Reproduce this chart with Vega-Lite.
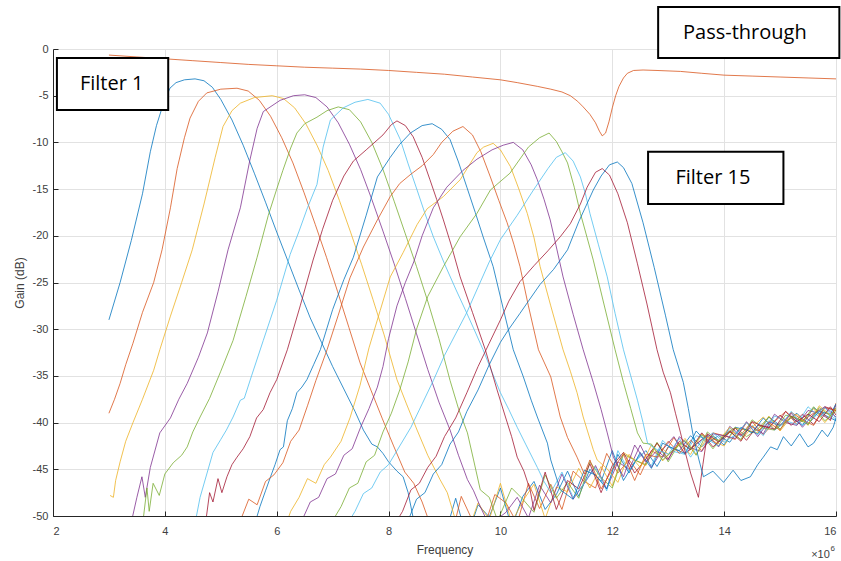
{
  "$schema": "https://vega.github.io/schema/vega-lite/v6.json",
  "width": 783,
  "height": 467,
  "autosize": {"type": "none"},
  "padding": {"left": 53, "top": 49, "right": 5, "bottom": 45},
  "background": "white",
  "config": {
    "font": "Liberation Sans",
    "view": {"stroke": null},
    "axis": {
      "grid": true,
      "gridColor": "#e2e2e2",
      "domainColor": "#262626",
      "tickColor": "#262626",
      "tickSize": -5,
      "labelFontSize": 11,
      "labelColor": "#404040",
      "titleFontSize": 12,
      "titleFontWeight": "normal",
      "titleColor": "#404040"
    }
  },
  "datasets": {
    "curves": [
      {"s":"1","x":3,"y":-29},{"s":"1","x":3.2,"y":-25},{"s":"1","x":3.4,"y":-20.5},{"s":"1","x":3.6,"y":-15.5},{"s":"1","x":3.74,"y":-11},{"s":"1","x":3.85,"y":-8.2},{"s":"1","x":3.95,"y":-6.3},{"s":"1","x":4.09,"y":-4.2},{"s":"1","x":4.2,"y":-3.6},{"s":"1","x":4.35,"y":-3.3},{"s":"1","x":4.54,"y":-3.2},{"s":"1","x":4.7,"y":-3.4},{"s":"1","x":4.85,"y":-4.1},{"s":"1","x":5,"y":-5.4},{"s":"1","x":5.2,"y":-7.6},{"s":"1","x":5.4,"y":-10.3},{"s":"1","x":5.6,"y":-13.3},{"s":"1","x":5.8,"y":-16.4},{"s":"1","x":6,"y":-19.6},{"s":"1","x":6.2,"y":-22.7},{"s":"1","x":6.4,"y":-25.8},{"s":"1","x":6.6,"y":-28.8},{"s":"1","x":6.8,"y":-31.4},{"s":"1","x":7,"y":-34},{"s":"1","x":7.2,"y":-36.4},{"s":"1","x":7.4,"y":-38.8},{"s":"1","x":7.55,"y":-40.8},{"s":"1","x":7.7,"y":-42.3},{"s":"1","x":7.8,"y":-42.6},{"s":"1","x":7.9,"y":-43.3},{"s":"1","x":8,"y":-44.2},{"s":"1","x":8.15,"y":-45.2},{"s":"1","x":8.26,"y":-45.8},{"s":"1","x":8.35,"y":-47.5},{"s":"1","x":8.45,"y":-50.5},{"s":"1","x":8.6,"y":-50.5},{"s":"1","x":8.8,"y":-51.2},{"s":"1","x":9,"y":-52.2},{"s":"1","x":9.2,"y":-48.1},{"s":"1","x":9.4,"y":-52.4},{"s":"1","x":9.6,"y":-48.8},{"s":"1","x":9.8,"y":-50.1},{"s":"1","x":10,"y":-47},{"s":"1","x":10.2,"y":-51.2},{"s":"1","x":10.4,"y":-47.9},{"s":"1","x":10.6,"y":-46.3},{"s":"1","x":10.8,"y":-49.3},{"s":"1","x":11,"y":-47.7},{"s":"1","x":11.2,"y":-45.2},{"s":"1","x":11.4,"y":-47.9},{"s":"1","x":11.6,"y":-45},{"s":"1","x":11.8,"y":-46.3},{"s":"1","x":12,"y":-43},{"s":"1","x":12.2,"y":-46.2},{"s":"1","x":12.4,"y":-44.2},{"s":"1","x":12.6,"y":-43},{"s":"1","x":12.8,"y":-44.7},{"s":"1","x":13,"y":-42.6},{"s":"1","x":13.2,"y":-43},{"s":"1","x":13.4,"y":-41.4},{"s":"1","x":13.6,"y":-42.6},{"s":"1","x":13.8,"y":-41.4},{"s":"1","x":14,"y":-42.4},{"s":"1","x":14.2,"y":-40.5},{"s":"1","x":14.4,"y":-40.8},{"s":"1","x":14.6,"y":-41.2},{"s":"1","x":14.8,"y":-39.4},{"s":"1","x":15,"y":-40.3},{"s":"1","x":15.2,"y":-39.5},{"s":"1","x":15.4,"y":-40.3},{"s":"1","x":15.6,"y":-38.4},{"s":"1","x":15.8,"y":-39.2},{"s":"1","x":16,"y":-39.8},

      {"s":"2","x":3,"y":-39},{"s":"2","x":3.1,"y":-37.5},{"s":"2","x":3.2,"y":-35.8},{"s":"2","x":3.3,"y":-33.8},{"s":"2","x":3.43,"y":-31.5},{"s":"2","x":3.6,"y":-28.2},{"s":"2","x":3.8,"y":-25},{"s":"2","x":3.95,"y":-21.5},{"s":"2","x":4.1,"y":-17},{"s":"2","x":4.22,"y":-12.8},{"s":"2","x":4.35,"y":-9.5},{"s":"2","x":4.45,"y":-7.4},{"s":"2","x":4.6,"y":-5.6},{"s":"2","x":4.75,"y":-4.7},{"s":"2","x":5,"y":-4.3},{"s":"2","x":5.29,"y":-4.2},{"s":"2","x":5.49,"y":-4.5},{"s":"2","x":5.69,"y":-5.5},{"s":"2","x":5.89,"y":-7.2},{"s":"2","x":6.09,"y":-9.5},{"s":"2","x":6.29,"y":-12.2},{"s":"2","x":6.49,"y":-15.4},{"s":"2","x":6.69,"y":-18.8},{"s":"2","x":6.89,"y":-22.3},{"s":"2","x":7.09,"y":-26},{"s":"2","x":7.29,"y":-29.8},{"s":"2","x":7.49,"y":-33.6},{"s":"2","x":7.69,"y":-36.6},{"s":"2","x":7.89,"y":-39.6},{"s":"2","x":8.09,"y":-42.5},{"s":"2","x":8.29,"y":-45.3},{"s":"2","x":8.45,"y":-46.5},{"s":"2","x":8.6,"y":-48.5},{"s":"2","x":8.75,"y":-51},{"s":"2","x":8.9,"y":-50.5},{"s":"2","x":9.1,"y":-52.8},{"s":"2","x":9.3,"y":-47.9},{"s":"2","x":9.5,"y":-50.5},{"s":"2","x":9.7,"y":-51.4},{"s":"2","x":9.9,"y":-47.7},{"s":"2","x":10.1,"y":-48.6},{"s":"2","x":10.3,"y":-50.8},{"s":"2","x":10.5,"y":-46.5},{"s":"2","x":10.7,"y":-49.2},{"s":"2","x":10.9,"y":-46.6},{"s":"2","x":11.1,"y":-49.3},{"s":"2","x":11.3,"y":-45.2},{"s":"2","x":11.5,"y":-46.3},{"s":"2","x":11.7,"y":-47},{"s":"2","x":11.9,"y":-43.3},{"s":"2","x":12.1,"y":-45.4},{"s":"2","x":12.3,"y":-44},{"s":"2","x":12.5,"y":-45.6},{"s":"2","x":12.7,"y":-43},{"s":"2","x":12.9,"y":-43.7},{"s":"2","x":13.1,"y":-41.6},{"s":"2","x":13.3,"y":-43.4},{"s":"2","x":13.5,"y":-42.3},{"s":"2","x":13.7,"y":-41.3},{"s":"2","x":13.9,"y":-42.5},{"s":"2","x":14.1,"y":-41},{"s":"2","x":14.3,"y":-41.3},{"s":"2","x":14.5,"y":-39.9},{"s":"2","x":14.7,"y":-41.3},{"s":"2","x":14.9,"y":-39.9},{"s":"2","x":15.1,"y":-38.8},{"s":"2","x":15.3,"y":-40.2},{"s":"2","x":15.5,"y":-39.4},{"s":"2","x":15.7,"y":-38.6},{"s":"2","x":15.9,"y":-39.8},{"s":"2","x":16,"y":-37.9},

      {"s":"3","x":3.02,"y":-47.8},{"s":"3","x":3.08,"y":-48},{"s":"3","x":3.12,"y":-46.2},{"s":"3","x":3.2,"y":-44.2},{"s":"3","x":3.3,"y":-42},{"s":"3","x":3.43,"y":-40},{"s":"3","x":3.6,"y":-37.5},{"s":"3","x":3.8,"y":-34.4},{"s":"3","x":3.91,"y":-32.2},{"s":"3","x":4.1,"y":-28.6},{"s":"3","x":4.3,"y":-25},{"s":"3","x":4.49,"y":-21.5},{"s":"3","x":4.7,"y":-16.6},{"s":"3","x":4.9,"y":-11.6},{"s":"3","x":5.04,"y":-8.3},{"s":"3","x":5.2,"y":-6.6},{"s":"3","x":5.35,"y":-5.8},{"s":"3","x":5.6,"y":-5.2},{"s":"3","x":5.92,"y":-5},{"s":"3","x":6.12,"y":-5.3},{"s":"3","x":6.32,"y":-6.3},{"s":"3","x":6.52,"y":-8},{"s":"3","x":6.72,"y":-10.3},{"s":"3","x":6.92,"y":-13},{"s":"3","x":7.12,"y":-16.2},{"s":"3","x":7.32,"y":-19.6},{"s":"3","x":7.52,"y":-23.1},{"s":"3","x":7.72,"y":-26.8},{"s":"3","x":7.92,"y":-30.6},{"s":"3","x":8.15,"y":-35.4},{"s":"3","x":8.32,"y":-38},{"s":"3","x":8.51,"y":-40.8},{"s":"3","x":8.7,"y":-43.5},{"s":"3","x":8.92,"y":-46.1},{"s":"3","x":9.05,"y":-47.5},{"s":"3","x":9.2,"y":-50.5},{"s":"3","x":9.4,"y":-52},{"s":"3","x":9.6,"y":-48.6},{"s":"3","x":9.8,"y":-50.4},{"s":"3","x":10,"y":-46.5},{"s":"3","x":10.2,"y":-50.7},{"s":"3","x":10.4,"y":-48.4},{"s":"3","x":10.6,"y":-46.6},{"s":"3","x":10.8,"y":-50.3},{"s":"3","x":11,"y":-46.9},{"s":"3","x":11.2,"y":-47.4},{"s":"3","x":11.4,"y":-44.9},{"s":"3","x":11.6,"y":-47},{"s":"3","x":11.8,"y":-44.7},{"s":"3","x":12,"y":-46.8},{"s":"3","x":12.2,"y":-43.2},{"s":"3","x":12.4,"y":-44},{"s":"3","x":12.6,"y":-44.6},{"s":"3","x":12.8,"y":-42.2},{"s":"3","x":13,"y":-43.4},{"s":"3","x":13.2,"y":-42.3},{"s":"3","x":13.4,"y":-43.4},{"s":"3","x":13.6,"y":-41.2},{"s":"3","x":13.8,"y":-42},{"s":"3","x":14,"y":-42.5},{"s":"3","x":14.2,"y":-40.6},{"s":"3","x":14.4,"y":-40.8},{"s":"3","x":14.6,"y":-41.1},{"s":"3","x":14.8,"y":-39.3},{"s":"3","x":15,"y":-40.9},{"s":"3","x":15.2,"y":-39.4},{"s":"3","x":15.4,"y":-39.8},{"s":"3","x":15.6,"y":-38.5},{"s":"3","x":15.8,"y":-40},{"s":"3","x":16,"y":-38.6},

      {"s":"4","x":3.35,"y":-52},{"s":"4","x":3.5,"y":-48},{"s":"4","x":3.59,"y":-45.8},{"s":"4","x":3.65,"y":-48},{"s":"4","x":3.74,"y":-44.8},{"s":"4","x":3.91,"y":-41.1},{"s":"4","x":4.1,"y":-39.5},{"s":"4","x":4.25,"y":-37.5},{"s":"4","x":4.4,"y":-35.8},{"s":"4","x":4.6,"y":-33},{"s":"4","x":4.76,"y":-30.4},{"s":"4","x":4.95,"y":-26},{"s":"4","x":5.13,"y":-21.5},{"s":"4","x":5.35,"y":-17},{"s":"4","x":5.52,"y":-11.9},{"s":"4","x":5.65,"y":-8.5},{"s":"4","x":5.76,"y":-6.7},{"s":"4","x":6.06,"y":-5.5},{"s":"4","x":6.3,"y":-5},{"s":"4","x":6.5,"y":-4.9},{"s":"4","x":6.7,"y":-5.2},{"s":"4","x":6.9,"y":-6.2},{"s":"4","x":7.1,"y":-7.9},{"s":"4","x":7.3,"y":-10.2},{"s":"4","x":7.5,"y":-12.9},{"s":"4","x":7.7,"y":-16.1},{"s":"4","x":7.9,"y":-19.5},{"s":"4","x":8.1,"y":-23},{"s":"4","x":8.3,"y":-26.7},{"s":"4","x":8.5,"y":-30.5},{"s":"4","x":8.7,"y":-34.3},{"s":"4","x":8.9,"y":-37.8},{"s":"4","x":9.1,"y":-40.8},{"s":"4","x":9.25,"y":-43.5},{"s":"4","x":9.41,"y":-46.1},{"s":"4","x":9.52,"y":-47.3},{"s":"4","x":9.64,"y":-49},{"s":"4","x":9.8,"y":-51},{"s":"4","x":10.1,"y":-49.6},{"s":"4","x":10.3,"y":-48},{"s":"4","x":10.5,"y":-50.2},{"s":"4","x":10.7,"y":-46.7},{"s":"4","x":10.9,"y":-48.6},{"s":"4","x":11.1,"y":-45.5},{"s":"4","x":11.3,"y":-48.2},{"s":"4","x":11.5,"y":-46.5},{"s":"4","x":11.7,"y":-44.6},{"s":"4","x":11.9,"y":-47.1},{"s":"4","x":12.1,"y":-44.2},{"s":"4","x":12.3,"y":-45},{"s":"4","x":12.5,"y":-42.4},{"s":"4","x":12.7,"y":-44.8},{"s":"4","x":12.9,"y":-42.9},{"s":"4","x":13.1,"y":-41.5},{"s":"4","x":13.3,"y":-43.3},{"s":"4","x":13.5,"y":-42.3},{"s":"4","x":13.7,"y":-41.4},{"s":"4","x":13.9,"y":-42.6},{"s":"4","x":14.1,"y":-40.4},{"s":"4","x":14.3,"y":-41.4},{"s":"4","x":14.5,"y":-40.4},{"s":"4","x":14.7,"y":-41.2},{"s":"4","x":14.9,"y":-39.1},{"s":"4","x":15.1,"y":-40},{"s":"4","x":15.3,"y":-40.3},{"s":"4","x":15.5,"y":-38.7},{"s":"4","x":15.7,"y":-39},{"s":"4","x":15.9,"y":-39.7},{"s":"4","x":16,"y":-38.1},

      {"s":"5","x":3.6,"y":-51},{"s":"5","x":3.68,"y":-47},{"s":"5","x":3.72,"y":-49.5},{"s":"5","x":3.79,"y":-46.5},{"s":"5","x":3.9,"y":-47.8},{"s":"5","x":4,"y":-45.5},{"s":"5","x":4.15,"y":-44.3},{"s":"5","x":4.3,"y":-43.5},{"s":"5","x":4.4,"y":-42.6},{"s":"5","x":4.5,"y":-41},{"s":"5","x":4.63,"y":-39.4},{"s":"5","x":4.8,"y":-37.4},{"s":"5","x":5,"y":-34.5},{"s":"5","x":5.22,"y":-31.2},{"s":"5","x":5.45,"y":-26.5},{"s":"5","x":5.65,"y":-22.3},{"s":"5","x":5.85,"y":-17.8},{"s":"5","x":6,"y":-15},{"s":"5","x":6.11,"y":-13},{"s":"5","x":6.25,"y":-10.6},{"s":"5","x":6.36,"y":-9},{"s":"5","x":6.5,"y":-8},{"s":"5","x":6.72,"y":-7.3},{"s":"5","x":6.9,"y":-6.6},{"s":"5","x":7.1,"y":-6.2},{"s":"5","x":7.3,"y":-6.5},{"s":"5","x":7.5,"y":-7.8},{"s":"5","x":7.7,"y":-10},{"s":"5","x":7.9,"y":-12.9},{"s":"5","x":8.1,"y":-16.3},{"s":"5","x":8.3,"y":-19.8},{"s":"5","x":8.5,"y":-23.3},{"s":"5","x":8.7,"y":-27},{"s":"5","x":8.9,"y":-31},{"s":"5","x":9.1,"y":-35.5},{"s":"5","x":9.25,"y":-38.5},{"s":"5","x":9.41,"y":-41.1},{"s":"5","x":9.52,"y":-44},{"s":"5","x":9.64,"y":-47.2},{"s":"5","x":9.8,"y":-48},{"s":"5","x":9.95,"y":-50.5},{"s":"5","x":10.2,"y":-47},{"s":"5","x":10.4,"y":-48.2},{"s":"5","x":10.6,"y":-49.6},{"s":"5","x":10.8,"y":-45.6},{"s":"5","x":11,"y":-48.1},{"s":"5","x":11.2,"y":-46.4},{"s":"5","x":11.4,"y":-48.1},{"s":"5","x":11.6,"y":-44.2},{"s":"5","x":11.8,"y":-45.9},{"s":"5","x":12,"y":-47},{"s":"5","x":12.2,"y":-43.4},{"s":"5","x":12.4,"y":-44},{"s":"5","x":12.6,"y":-44.5},{"s":"5","x":12.8,"y":-42.1},{"s":"5","x":13,"y":-44.2},{"s":"5","x":13.2,"y":-42.2},{"s":"5","x":13.4,"y":-42.8},{"s":"5","x":13.6,"y":-41.3},{"s":"5","x":13.8,"y":-42.8},{"s":"5","x":14,"y":-41.3},{"s":"5","x":14.2,"y":-40.5},{"s":"5","x":14.4,"y":-41.5},{"s":"5","x":14.6,"y":-40.7},{"s":"5","x":14.8,"y":-39.4},{"s":"5","x":15,"y":-40.7},{"s":"5","x":15.2,"y":-39.3},{"s":"5","x":15.4,"y":-39.9},{"s":"5","x":15.6,"y":-38.3},{"s":"5","x":15.8,"y":-39.8},{"s":"5","x":16,"y":-38.8},

      {"s":"6","x":4.5,"y":-52},{"s":"6","x":4.63,"y":-48},{"s":"6","x":4.75,"y":-45.5},{"s":"6","x":4.86,"y":-43.2},{"s":"6","x":5,"y":-41.8},{"s":"6","x":5.1,"y":-40.8},{"s":"6","x":5.22,"y":-39.4},{"s":"6","x":5.35,"y":-37.6},{"s":"6","x":5.42,"y":-37.4},{"s":"6","x":5.55,"y":-35},{"s":"6","x":5.76,"y":-31.2},{"s":"6","x":6,"y":-26.9},{"s":"6","x":6.24,"y":-22},{"s":"6","x":6.4,"y":-19.5},{"s":"6","x":6.55,"y":-17},{"s":"6","x":6.72,"y":-14.5},{"s":"6","x":6.83,"y":-10.5},{"s":"6","x":6.96,"y":-7.6},{"s":"6","x":7.19,"y":-6.3},{"s":"6","x":7.4,"y":-5.7},{"s":"6","x":7.63,"y":-5.4},{"s":"6","x":7.85,"y":-5.8},{"s":"6","x":8,"y":-7},{"s":"6","x":8.21,"y":-9.7},{"s":"6","x":8.35,"y":-12.3},{"s":"6","x":8.51,"y":-15.1},{"s":"6","x":8.65,"y":-17.6},{"s":"6","x":8.8,"y":-20.1},{"s":"6","x":9,"y":-23},{"s":"6","x":9.2,"y":-25.7},{"s":"6","x":9.4,"y":-28.3},{"s":"6","x":9.55,"y":-30.3},{"s":"6","x":9.69,"y":-32.2},{"s":"6","x":9.85,"y":-34.6},{"s":"6","x":10,"y":-36.8},{"s":"6","x":10.15,"y":-38.6},{"s":"6","x":10.3,"y":-40.5},{"s":"6","x":10.45,"y":-42.3},{"s":"6","x":10.66,"y":-44.8},{"s":"6","x":10.78,"y":-46.3},{"s":"6","x":10.9,"y":-47.5},{"s":"6","x":11.1,"y":-45.3},{"s":"6","x":11.3,"y":-48},{"s":"6","x":11.5,"y":-46.5},{"s":"6","x":11.7,"y":-44.8},{"s":"6","x":11.9,"y":-47.3},{"s":"6","x":12.1,"y":-43},{"s":"6","x":12.3,"y":-45.2},{"s":"6","x":12.5,"y":-43.4},{"s":"6","x":12.7,"y":-44.6},{"s":"6","x":12.9,"y":-41.9},{"s":"6","x":13.1,"y":-43.1},{"s":"6","x":13.3,"y":-43.4},{"s":"6","x":13.5,"y":-41.4},{"s":"6","x":13.7,"y":-41.8},{"s":"6","x":13.9,"y":-42.5},{"s":"6","x":14.1,"y":-40.6},{"s":"6","x":14.3,"y":-41.5},{"s":"6","x":14.5,"y":-40.3},{"s":"6","x":14.7,"y":-41.4},{"s":"6","x":14.9,"y":-39.3},{"s":"6","x":15.1,"y":-39.8},{"s":"6","x":15.3,"y":-40.2},{"s":"6","x":15.5,"y":-38.3},{"s":"6","x":15.7,"y":-39.4},{"s":"6","x":15.9,"y":-38.6},{"s":"6","x":16,"y":-39.6},

      {"s":"7","x":4.7,"y":-52},{"s":"7","x":4.8,"y":-47.5},{"s":"7","x":4.86,"y":-48.5},{"s":"7","x":4.95,"y":-46},{"s":"7","x":5.02,"y":-47.5},{"s":"7","x":5.11,"y":-45.8},{"s":"7","x":5.2,"y":-44.5},{"s":"7","x":5.29,"y":-43.7},{"s":"7","x":5.4,"y":-42.8},{"s":"7","x":5.52,"y":-41.5},{"s":"7","x":5.64,"y":-39.5},{"s":"7","x":5.76,"y":-38.6},{"s":"7","x":5.88,"y":-36.8},{"s":"7","x":6,"y":-35.4},{"s":"7","x":6.19,"y":-32.2},{"s":"7","x":6.42,"y":-27.5},{"s":"7","x":6.65,"y":-22.6},{"s":"7","x":6.82,"y":-19.3},{"s":"7","x":7,"y":-16.2},{"s":"7","x":7.2,"y":-13.6},{"s":"7","x":7.37,"y":-12},{"s":"7","x":7.6,"y":-10.8},{"s":"7","x":7.9,"y":-9.2},{"s":"7","x":8.05,"y":-8.1},{"s":"7","x":8.15,"y":-7.7},{"s":"7","x":8.3,"y":-8.2},{"s":"7","x":8.44,"y":-9.4},{"s":"7","x":8.6,"y":-11.6},{"s":"7","x":8.74,"y":-14},{"s":"7","x":8.86,"y":-16.1},{"s":"7","x":8.98,"y":-18.3},{"s":"7","x":9.13,"y":-21.2},{"s":"7","x":9.28,"y":-24.4},{"s":"7","x":9.5,"y":-28.2},{"s":"7","x":9.73,"y":-32.2},{"s":"7","x":9.94,"y":-36.5},{"s":"7","x":10.09,"y":-39.4},{"s":"7","x":10.2,"y":-41.5},{"s":"7","x":10.3,"y":-43.7},{"s":"7","x":10.42,"y":-45.2},{"s":"7","x":10.53,"y":-47.2},{"s":"7","x":10.6,"y":-49.4},{"s":"7","x":10.8,"y":-45.3},{"s":"7","x":11,"y":-49.3},{"s":"7","x":11.2,"y":-46.2},{"s":"7","x":11.4,"y":-47.1},{"s":"7","x":11.6,"y":-44.4},{"s":"7","x":11.8,"y":-47.5},{"s":"7","x":12,"y":-44.6},{"s":"7","x":12.2,"y":-43.2},{"s":"7","x":12.4,"y":-45.4},{"s":"7","x":12.6,"y":-43.9},{"s":"7","x":12.8,"y":-42.2},{"s":"7","x":13,"y":-43.9},{"s":"7","x":13.2,"y":-42},{"s":"7","x":13.4,"y":-42.9},{"s":"7","x":13.6,"y":-41.1},{"s":"7","x":13.8,"y":-42.6},{"s":"7","x":14,"y":-41.5},{"s":"7","x":14.2,"y":-40.6},{"s":"7","x":14.4,"y":-41.9},{"s":"7","x":14.6,"y":-40.3},{"s":"7","x":14.8,"y":-40.5},{"s":"7","x":15,"y":-39.2},{"s":"7","x":15.2,"y":-40.3},{"s":"7","x":15.4,"y":-39.1},{"s":"7","x":15.6,"y":-40.2},{"s":"7","x":15.8,"y":-38.3},{"s":"7","x":16,"y":-38.7},

      {"s":"8","x":5.55,"y":-52},{"s":"8","x":5.7,"y":-49},{"s":"8","x":5.8,"y":-47.3},{"s":"8","x":5.89,"y":-45.8},{"s":"8","x":5.97,"y":-44.5},{"s":"8","x":6.06,"y":-42.9},{"s":"8","x":6.12,"y":-42.6},{"s":"8","x":6.19,"y":-39.8},{"s":"8","x":6.28,"y":-38.5},{"s":"8","x":6.36,"y":-36.8},{"s":"8","x":6.45,"y":-36.2},{"s":"8","x":6.54,"y":-35.4},{"s":"8","x":6.66,"y":-33.8},{"s":"8","x":6.78,"y":-32.2},{"s":"8","x":7,"y":-27.9},{"s":"8","x":7.2,"y":-24.7},{"s":"8","x":7.37,"y":-22.3},{"s":"8","x":7.6,"y":-17.8},{"s":"8","x":7.8,"y":-13.7},{"s":"8","x":8.03,"y":-11.6},{"s":"8","x":8.2,"y":-10.2},{"s":"8","x":8.39,"y":-9},{"s":"8","x":8.6,"y":-8.2},{"s":"8","x":8.78,"y":-8},{"s":"8","x":8.95,"y":-8.6},{"s":"8","x":9.1,"y":-9.7},{"s":"8","x":9.25,"y":-12.1},{"s":"8","x":9.4,"y":-14.8},{"s":"8","x":9.55,"y":-17.5},{"s":"8","x":9.69,"y":-20.1},{"s":"8","x":9.87,"y":-23.3},{"s":"8","x":10.05,"y":-27.8},{"s":"8","x":10.23,"y":-32.2},{"s":"8","x":10.41,"y":-35.1},{"s":"8","x":10.55,"y":-37.6},{"s":"8","x":10.66,"y":-39.4},{"s":"8","x":10.84,"y":-42.2},{"s":"8","x":10.9,"y":-44},{"s":"8","x":11.07,"y":-47.2},{"s":"8","x":11.3,"y":-48.2},{"s":"8","x":11.5,"y":-45.1},{"s":"8","x":11.7,"y":-45.6},{"s":"8","x":11.9,"y":-47.1},{"s":"8","x":12.1,"y":-43.4},{"s":"8","x":12.3,"y":-45.4},{"s":"8","x":12.5,"y":-43.2},{"s":"8","x":12.7,"y":-44.9},{"s":"8","x":12.9,"y":-42.2},{"s":"8","x":13.1,"y":-42.8},{"s":"8","x":13.3,"y":-43.3},{"s":"8","x":13.5,"y":-40.9},{"s":"8","x":13.7,"y":-42.2},{"s":"8","x":13.9,"y":-41.4},{"s":"8","x":14.1,"y":-42.1},{"s":"8","x":14.3,"y":-40.5},{"s":"8","x":14.5,"y":-41.1},{"s":"8","x":14.7,"y":-39.5},{"s":"8","x":14.9,"y":-40.8},{"s":"8","x":15.1,"y":-39.9},{"s":"8","x":15.3,"y":-39},{"s":"8","x":15.5,"y":-40.2},{"s":"8","x":15.7,"y":-38.8},{"s":"8","x":15.9,"y":-39.1},{"s":"8","x":16,"y":-38},

      {"s":"9","x":5.2,"y":-52},{"s":"9","x":5.35,"y":-50.5},{"s":"9","x":5.5,"y":-48.2},{"s":"9","x":5.65,"y":-48.8},{"s":"9","x":5.8,"y":-46.3},{"s":"9","x":5.95,"y":-45.6},{"s":"9","x":6.11,"y":-44.3},{"s":"9","x":6.25,"y":-42},{"s":"9","x":6.4,"y":-40.8},{"s":"9","x":6.55,"y":-38.2},{"s":"9","x":6.7,"y":-35.5},{"s":"9","x":6.9,"y":-32.2},{"s":"9","x":7.1,"y":-28.5},{"s":"9","x":7.31,"y":-24.5},{"s":"9","x":7.55,"y":-21.2},{"s":"9","x":7.8,"y":-18.3},{"s":"9","x":8.03,"y":-15.8},{"s":"9","x":8.2,"y":-14.4},{"s":"9","x":8.4,"y":-13.4},{"s":"9","x":8.6,"y":-12.5},{"s":"9","x":8.8,"y":-11.3},{"s":"9","x":8.95,"y":-10},{"s":"9","x":9.15,"y":-8.8},{"s":"9","x":9.33,"y":-8.3},{"s":"9","x":9.5,"y":-9.2},{"s":"9","x":9.65,"y":-11},{"s":"9","x":9.82,"y":-13.7},{"s":"9","x":9.97,"y":-16.2},{"s":"9","x":10.12,"y":-18.6},{"s":"9","x":10.24,"y":-20.9},{"s":"9","x":10.35,"y":-23.3},{"s":"9","x":10.5,"y":-27.5},{"s":"9","x":10.68,"y":-32.2},{"s":"9","x":10.9,"y":-35.1},{"s":"9","x":11.07,"y":-39.4},{"s":"9","x":11.2,"y":-41.6},{"s":"9","x":11.37,"y":-43.7},{"s":"9","x":11.5,"y":-45.5},{"s":"9","x":11.6,"y":-44},{"s":"9","x":11.8,"y":-47.1},{"s":"9","x":12,"y":-45},{"s":"9","x":12.2,"y":-43.4},{"s":"9","x":12.4,"y":-46.2},{"s":"9","x":12.6,"y":-43.4},{"s":"9","x":12.8,"y":-43.7},{"s":"9","x":13,"y":-42},{"s":"9","x":13.2,"y":-43.3},{"s":"9","x":13.4,"y":-41.9},{"s":"9","x":13.6,"y":-43},{"s":"9","x":13.8,"y":-41.1},{"s":"9","x":14,"y":-41.4},{"s":"9","x":14.2,"y":-41.8},{"s":"9","x":14.4,"y":-40},{"s":"9","x":14.6,"y":-40.9},{"s":"9","x":14.8,"y":-40},{"s":"9","x":15,"y":-40.8},{"s":"9","x":15.2,"y":-38.9},{"s":"9","x":15.4,"y":-39.7},{"s":"9","x":15.6,"y":-40.3},{"s":"9","x":15.8,"y":-38.4},{"s":"9","x":16,"y":-38.7},

      {"s":"10","x":6.1,"y":-52},{"s":"10","x":6.25,"y":-49.5},{"s":"10","x":6.4,"y":-48},{"s":"10","x":6.55,"y":-46},{"s":"10","x":6.7,"y":-46.5},{"s":"10","x":6.85,"y":-44.5},{"s":"10","x":6.96,"y":-43.7},{"s":"10","x":7.15,"y":-42},{"s":"10","x":7.31,"y":-39.5},{"s":"10","x":7.49,"y":-36},{"s":"10","x":7.65,"y":-32},{"s":"10","x":7.85,"y":-28},{"s":"10","x":8.03,"y":-24.4},{"s":"10","x":8.26,"y":-21.8},{"s":"10","x":8.51,"y":-18.8},{"s":"10","x":8.69,"y":-17.1},{"s":"10","x":8.98,"y":-15.8},{"s":"10","x":9.28,"y":-14},{"s":"10","x":9.58,"y":-11.1},{"s":"10","x":9.7,"y":-10.5},{"s":"10","x":9.87,"y":-10.1},{"s":"10","x":10,"y":-10.8},{"s":"10","x":10.18,"y":-12.6},{"s":"10","x":10.33,"y":-15},{"s":"10","x":10.48,"y":-17.6},{"s":"10","x":10.6,"y":-20.2},{"s":"10","x":10.71,"y":-23.3},{"s":"10","x":10.9,"y":-27.5},{"s":"10","x":11.12,"y":-32.2},{"s":"10","x":11.25,"y":-34.5},{"s":"10","x":11.37,"y":-36.8},{"s":"10","x":11.48,"y":-39.4},{"s":"10","x":11.66,"y":-42.9},{"s":"10","x":11.73,"y":-44},{"s":"10","x":11.9,"y":-44.9},{"s":"10","x":12.1,"y":-46.4},{"s":"10","x":12.3,"y":-43.4},{"s":"10","x":12.5,"y":-44.8},{"s":"10","x":12.7,"y":-42.4},{"s":"10","x":12.9,"y":-44.1},{"s":"10","x":13.1,"y":-42.9},{"s":"10","x":13.3,"y":-41.7},{"s":"10","x":13.5,"y":-43.4},{"s":"10","x":13.7,"y":-41.6},{"s":"10","x":13.9,"y":-41.9},{"s":"10","x":14.1,"y":-40.5},{"s":"10","x":14.3,"y":-41.9},{"s":"10","x":14.5,"y":-40.5},{"s":"10","x":14.7,"y":-39.4},{"s":"10","x":14.9,"y":-40.7},{"s":"10","x":15.1,"y":-39.9},{"s":"10","x":15.3,"y":-39.1},{"s":"10","x":15.5,"y":-40.3},{"s":"10","x":15.7,"y":-38.2},{"s":"10","x":15.9,"y":-39.2},{"s":"10","x":16,"y":-38.5},

      {"s":"11","x":6.3,"y":-52},{"s":"11","x":6.45,"y":-50.5},{"s":"11","x":6.6,"y":-48.5},{"s":"11","x":6.75,"y":-48},{"s":"11","x":6.9,"y":-46},{"s":"11","x":7.05,"y":-45.5},{"s":"11","x":7.2,"y":-43.5},{"s":"11","x":7.35,"y":-42.8},{"s":"11","x":7.5,"y":-40.5},{"s":"11","x":7.65,"y":-38.5},{"s":"11","x":7.8,"y":-36.2},{"s":"11","x":7.9,"y":-34},{"s":"11","x":8,"y":-31},{"s":"11","x":8.15,"y":-27.5},{"s":"11","x":8.3,"y":-25},{"s":"11","x":8.45,"y":-22.8},{"s":"11","x":8.6,"y":-20},{"s":"11","x":8.8,"y":-17},{"s":"11","x":9.04,"y":-14.8},{"s":"11","x":9.33,"y":-13},{"s":"11","x":9.58,"y":-11.8},{"s":"11","x":9.85,"y":-10.8},{"s":"11","x":10.05,"y":-10.3},{"s":"11","x":10.23,"y":-10},{"s":"11","x":10.4,"y":-10.8},{"s":"11","x":10.55,"y":-12.4},{"s":"11","x":10.66,"y":-14},{"s":"11","x":10.78,"y":-16.1},{"s":"11","x":10.89,"y":-18.3},{"s":"11","x":11,"y":-21.2},{"s":"11","x":11.12,"y":-24.4},{"s":"11","x":11.3,"y":-28.4},{"s":"11","x":11.48,"y":-32.2},{"s":"11","x":11.66,"y":-35.7},{"s":"11","x":11.8,"y":-38.6},{"s":"11","x":11.91,"y":-41.1},{"s":"11","x":12.02,"y":-43.7},{"s":"11","x":12.2,"y":-45.8},{"s":"11","x":12.4,"y":-42.4},{"s":"11","x":12.6,"y":-44.2},{"s":"11","x":12.8,"y":-43},{"s":"11","x":13,"y":-44},{"s":"11","x":13.2,"y":-41.5},{"s":"11","x":13.4,"y":-42.7},{"s":"11","x":13.6,"y":-43.1},{"s":"11","x":13.8,"y":-41.2},{"s":"11","x":14,"y":-41.4},{"s":"11","x":14.2,"y":-41.7},{"s":"11","x":14.4,"y":-39.9},{"s":"11","x":14.6,"y":-41.5},{"s":"11","x":14.8,"y":-39.9},{"s":"11","x":15,"y":-40.3},{"s":"11","x":15.2,"y":-39},{"s":"11","x":15.4,"y":-40.5},{"s":"11","x":15.6,"y":-39.1},{"s":"11","x":15.8,"y":-38.3},{"s":"11","x":16,"y":-39.4},

      {"s":"12","x":6.85,"y":-52},{"s":"12","x":7,"y":-50.5},{"s":"12","x":7.15,"y":-49},{"s":"12","x":7.3,"y":-47},{"s":"12","x":7.45,"y":-46.5},{"s":"12","x":7.6,"y":-44.2},{"s":"12","x":7.75,"y":-43.5},{"s":"12","x":7.9,"y":-41},{"s":"12","x":8.05,"y":-39},{"s":"12","x":8.2,"y":-36.5},{"s":"12","x":8.35,"y":-33.5},{"s":"12","x":8.5,"y":-30},{"s":"12","x":8.7,"y":-26.5},{"s":"12","x":8.98,"y":-23.3},{"s":"12","x":9.28,"y":-20.1},{"s":"12","x":9.58,"y":-17.6},{"s":"12","x":9.82,"y":-15.1},{"s":"12","x":10.17,"y":-13.3},{"s":"12","x":10.5,"y":-10.5},{"s":"12","x":10.7,"y":-9.5},{"s":"12","x":10.87,"y":-9},{"s":"12","x":11,"y":-9.9},{"s":"12","x":11.1,"y":-11},{"s":"12","x":11.2,"y":-12.2},{"s":"12","x":11.32,"y":-14.8},{"s":"12","x":11.43,"y":-17.6},{"s":"12","x":11.55,"y":-20.2},{"s":"12","x":11.66,"y":-22.6},{"s":"12","x":11.85,"y":-27.3},{"s":"12","x":12.05,"y":-32.2},{"s":"12","x":12.2,"y":-35.7},{"s":"12","x":12.33,"y":-38.5},{"s":"12","x":12.45,"y":-41.1},{"s":"12","x":12.55,"y":-42.2},{"s":"12","x":12.7,"y":-42.3},{"s":"12","x":12.9,"y":-44},{"s":"12","x":13.1,"y":-42.9},{"s":"12","x":13.3,"y":-41.9},{"s":"12","x":13.5,"y":-43.5},{"s":"12","x":13.7,"y":-41},{"s":"12","x":13.9,"y":-42},{"s":"12","x":14.1,"y":-41},{"s":"12","x":14.3,"y":-41.8},{"s":"12","x":14.5,"y":-39.7},{"s":"12","x":14.7,"y":-40.6},{"s":"12","x":14.9,"y":-40.8},{"s":"12","x":15.1,"y":-39.2},{"s":"12","x":15.3,"y":-39.5},{"s":"12","x":15.5,"y":-40.2},{"s":"12","x":15.7,"y":-38.4},{"s":"12","x":15.9,"y":-39.3},{"s":"12","x":16,"y":-38.4},

      {"s":"13","x":7.25,"y":-51},{"s":"13","x":7.4,"y":-49.5},{"s":"13","x":7.55,"y":-47.6},{"s":"13","x":7.7,"y":-47},{"s":"13","x":7.85,"y":-45.3},{"s":"13","x":8,"y":-44.5},{"s":"13","x":8.2,"y":-42.5},{"s":"13","x":8.4,"y":-40.5},{"s":"13","x":8.6,"y":-38},{"s":"13","x":8.8,"y":-35.5},{"s":"13","x":9,"y":-32.8},{"s":"13","x":9.2,"y":-30.5},{"s":"13","x":9.4,"y":-28.2},{"s":"13","x":9.6,"y":-25.5},{"s":"13","x":9.8,"y":-22.8},{"s":"13","x":10,"y":-20.4},{"s":"13","x":10.3,"y":-17.8},{"s":"13","x":10.59,"y":-15.1},{"s":"13","x":10.85,"y":-12.8},{"s":"13","x":11,"y":-11.6},{"s":"13","x":11.16,"y":-11.1},{"s":"13","x":11.3,"y":-12},{"s":"13","x":11.43,"y":-13.7},{"s":"13","x":11.52,"y":-15.5},{"s":"13","x":11.6,"y":-17.6},{"s":"13","x":11.75,"y":-20.9},{"s":"13","x":11.91,"y":-24.4},{"s":"13","x":12.05,"y":-28.3},{"s":"13","x":12.2,"y":-32.2},{"s":"13","x":12.33,"y":-35},{"s":"13","x":12.45,"y":-37.6},{"s":"13","x":12.55,"y":-40},{"s":"13","x":12.63,"y":-42.2},{"s":"13","x":12.8,"y":-42.9},{"s":"13","x":13,"y":-43.4},{"s":"13","x":13.2,"y":-41.7},{"s":"13","x":13.4,"y":-43.7},{"s":"13","x":13.6,"y":-41.9},{"s":"13","x":13.8,"y":-41.1},{"s":"13","x":14,"y":-42.1},{"s":"13","x":14.2,"y":-41.3},{"s":"13","x":14.4,"y":-40},{"s":"13","x":14.6,"y":-41.3},{"s":"13","x":14.8,"y":-39.8},{"s":"13","x":15,"y":-40.4},{"s":"13","x":15.2,"y":-38.8},{"s":"13","x":15.4,"y":-40.3},{"s":"13","x":15.6,"y":-39.3},{"s":"13","x":15.8,"y":-38.4},{"s":"13","x":16,"y":-39.8},

      {"s":"14","x":8.1,"y":-51},{"s":"14","x":8.25,"y":-49.5},{"s":"14","x":8.4,"y":-47.2},{"s":"14","x":8.55,"y":-46.5},{"s":"14","x":8.7,"y":-44.8},{"s":"14","x":8.85,"y":-43.6},{"s":"14","x":9,"y":-41.5},{"s":"14","x":9.2,"y":-39.5},{"s":"14","x":9.4,"y":-36.8},{"s":"14","x":9.6,"y":-34},{"s":"14","x":9.8,"y":-31.5},{"s":"14","x":10,"y":-29},{"s":"14","x":10.15,"y":-27},{"s":"14","x":10.35,"y":-24.9},{"s":"14","x":10.6,"y":-23.2},{"s":"14","x":10.85,"y":-21.6},{"s":"14","x":11.07,"y":-20.1},{"s":"14","x":11.25,"y":-18.7},{"s":"14","x":11.43,"y":-16.6},{"s":"14","x":11.55,"y":-14.8},{"s":"14","x":11.7,"y":-13.2},{"s":"14","x":11.82,"y":-12.8},{"s":"14","x":11.95,"y":-13.5},{"s":"14","x":12.1,"y":-15.5},{"s":"14","x":12.27,"y":-18.6},{"s":"14","x":12.45,"y":-23},{"s":"14","x":12.62,"y":-27.3},{"s":"14","x":12.8,"y":-32.2},{"s":"14","x":12.91,"y":-34.6},{"s":"14","x":13.04,"y":-36.8},{"s":"14","x":13.13,"y":-39},{"s":"14","x":13.22,"y":-41.1},{"s":"14","x":13.31,"y":-43.3},{"s":"14","x":13.4,"y":-45.4},{"s":"14","x":13.54,"y":-48},{"s":"14","x":13.62,"y":-44.5},{"s":"14","x":13.7,"y":-41.2},{"s":"14","x":13.9,"y":-42.1},{"s":"14","x":14.1,"y":-40.9},{"s":"14","x":14.3,"y":-42},{"s":"14","x":14.5,"y":-39.9},{"s":"14","x":14.7,"y":-40.4},{"s":"14","x":14.9,"y":-40.7},{"s":"14","x":15.1,"y":-38.8},{"s":"14","x":15.3,"y":-39.9},{"s":"14","x":15.5,"y":-39.1},{"s":"14","x":15.7,"y":-39.9},{"s":"14","x":15.9,"y":-38.3},{"s":"14","x":16,"y":-39.2},

      {"s":"15","x":8.2,"y":-52},{"s":"15","x":8.35,"y":-50.5},{"s":"15","x":8.5,"y":-48.2},{"s":"15","x":8.65,"y":-47.5},{"s":"15","x":8.8,"y":-45.5},{"s":"15","x":8.95,"y":-44.5},{"s":"15","x":9.1,"y":-42.3},{"s":"15","x":9.25,"y":-41},{"s":"15","x":9.4,"y":-38.8},{"s":"15","x":9.6,"y":-36.5},{"s":"15","x":9.8,"y":-33.8},{"s":"15","x":10,"y":-31.4},{"s":"15","x":10.15,"y":-30},{"s":"15","x":10.35,"y":-28.3},{"s":"15","x":10.5,"y":-27},{"s":"15","x":10.71,"y":-25.2},{"s":"15","x":10.95,"y":-23.6},{"s":"15","x":11.2,"y":-21.5},{"s":"15","x":11.4,"y":-18.5},{"s":"15","x":11.66,"y":-15.1},{"s":"15","x":11.8,"y":-13.6},{"s":"15","x":11.95,"y":-12.4},{"s":"15","x":12.09,"y":-12.1},{"s":"15","x":12.2,"y":-12.7},{"s":"15","x":12.35,"y":-14.4},{"s":"15","x":12.55,"y":-18.6},{"s":"15","x":12.75,"y":-23.4},{"s":"15","x":12.95,"y":-28.5},{"s":"15","x":13.09,"y":-32.2},{"s":"15","x":13.27,"y":-35.7},{"s":"15","x":13.36,"y":-38.5},{"s":"15","x":13.45,"y":-41.5},{"s":"15","x":13.55,"y":-44},{"s":"15","x":13.63,"y":-45.8},{"s":"15","x":13.8,"y":-45.2},{"s":"15","x":13.99,"y":-46.4},{"s":"15","x":14.16,"y":-45.1},{"s":"15","x":14.3,"y":-46.2},{"s":"15","x":14.47,"y":-45.8},{"s":"15","x":14.6,"y":-44.5},{"s":"15","x":14.7,"y":-43.7},{"s":"15","x":14.83,"y":-42.6},{"s":"15","x":14.95,"y":-42.9},{"s":"15","x":15.06,"y":-41.5},{"s":"15","x":15.2,"y":-42.5},{"s":"15","x":15.35,"y":-41.2},{"s":"15","x":15.5,"y":-42.6},{"s":"15","x":15.6,"y":-42.2},{"s":"15","x":15.75,"y":-40.8},{"s":"15","x":15.85,"y":-41.5},{"s":"15","x":15.95,"y":-40.5},{"s":"15","x":16,"y":-39.5},

      {"s":"P","x":3,"y":-0.65},{"s":"P","x":3.5,"y":-0.85},{"s":"P","x":4,"y":-1.05},{"s":"P","x":4.5,"y":-1.25},{"s":"P","x":5,"y":-1.45},{"s":"P","x":5.5,"y":-1.65},{"s":"P","x":6,"y":-1.8},{"s":"P","x":6.5,"y":-1.95},{"s":"P","x":7,"y":-2.05},{"s":"P","x":7.5,"y":-2.15},{"s":"P","x":8,"y":-2.3},{"s":"P","x":8.5,"y":-2.5},{"s":"P","x":9,"y":-2.7},{"s":"P","x":9.5,"y":-3},{"s":"P","x":10,"y":-3.3},{"s":"P","x":10.3,"y":-3.6},{"s":"P","x":10.66,"y":-4},{"s":"P","x":10.9,"y":-4.3},{"s":"P","x":11.1,"y":-4.6},{"s":"P","x":11.25,"y":-5},{"s":"P","x":11.38,"y":-5.6},{"s":"P","x":11.48,"y":-6.2},{"s":"P","x":11.6,"y":-7},{"s":"P","x":11.7,"y":-7.9},{"s":"P","x":11.77,"y":-8.8},{"s":"P","x":11.82,"y":-9.3},{"s":"P","x":11.88,"y":-9},{"s":"P","x":11.94,"y":-7.8},{"s":"P","x":12,"y":-6.3},{"s":"P","x":12.06,"y":-5},{"s":"P","x":12.12,"y":-4},{"s":"P","x":12.2,"y":-3.1},{"s":"P","x":12.27,"y":-2.6},{"s":"P","x":12.38,"y":-2.3},{"s":"P","x":12.55,"y":-2.25},{"s":"P","x":12.8,"y":-2.3},{"s":"P","x":13.22,"y":-2.4},{"s":"P","x":13.6,"y":-2.6},{"s":"P","x":14,"y":-2.8},{"s":"P","x":14.5,"y":-2.9},{"s":"P","x":15,"y":-3},{"s":"P","x":15.5,"y":-3.1},{"s":"P","x":16,"y":-3.2}
    ],
    "notes": [
      {"x":2.07,"x2":4.06,"y":-0.96,"y2":-6.53,"t":"Filter 1","tx":3.05,"ty":-3.8},
      {"x":12.82,"x2":16.06,"y":4.5,"y2":-0.96,"t":"Pass-through","tx":14.37,"ty":1.7},
      {"x":12.64,"x2":15.06,"y":-11.0,"y2":-16.6,"t":"Filter 15","tx":13.8,"ty":-13.8}
    ]
  },
  "layer": [
    {
      "data": {"name": "curves"},
      "mark": {"type": "line", "clip": true, "strokeWidth": 1, "opacity": 0.78},
      "encoding": {
        "x": {
          "field": "x", "type": "quantitative",
          "scale": {"domain": [2, 16], "nice": false, "zero": false},
          "axis": {"values": [2,4,6,8,10,12,14,16], "labelExpr": "'' + datum.value", "title": "Frequency", "labelPadding": 14, "titlePadding": 8}
        },
        "y": {
          "field": "y", "type": "quantitative",
          "scale": {"domain": [-50, 0], "nice": false, "zero": false},
          "axis": {"values": [0,-5,-10,-15,-20,-25,-30,-35,-40,-45,-50], "labelExpr": "'' + datum.value", "title": "Gain (dB)", "labelPadding": 10, "titlePadding": 6}
        },
        "color": {
          "field": "s", "type": "nominal", "legend": null,
          "scale": {
            "domain": ["1","2","3","4","5","6","7","8","9","10","11","12","13","14","15","P"],
            "range": ["#0072BD","#D95319","#EDB120","#7E2F8E","#77AC30","#4DBEEE","#A2142F","#0072BD","#D95319","#EDB120","#7E2F8E","#77AC30","#4DBEEE","#A2142F","#0072BD","#D95319"]
          }
        }
      }
    },
    {
      "data": {"name": "notes"},
      "mark": {"type": "rect", "fill": "white", "stroke": "black", "strokeWidth": 2},
      "encoding": {
        "x": {"field": "x", "type": "quantitative"},
        "x2": {"field": "x2"},
        "y": {"field": "y", "type": "quantitative"},
        "y2": {"field": "y2"}
      }
    },
    {
      "data": {"name": "notes"},
      "mark": {"type": "text", "font": "Open Sans", "fontSize": 20, "color": "black", "align": "center", "baseline": "middle"},
      "encoding": {
        "x": {"field": "tx", "type": "quantitative"},
        "y": {"field": "ty", "type": "quantitative"},
        "text": {"field": "t"}
      }
    },
    {
      "data": {"values": [{"x": 15.89, "y": -54.5, "t": "×10"}]},
      "mark": {"type": "text", "fontSize": 11, "color": "#404040", "align": "right", "baseline": "alphabetic"},
      "encoding": {
        "x": {"field": "x", "type": "quantitative"},
        "y": {"field": "y", "type": "quantitative"},
        "text": {"field": "t"}
      }
    },
    {
      "data": {"values": [{"x": 15.9, "y": -53.7, "t": "6"}]},
      "mark": {"type": "text", "fontSize": 8, "color": "#404040", "align": "left", "baseline": "alphabetic"},
      "encoding": {
        "x": {"field": "x", "type": "quantitative"},
        "y": {"field": "y", "type": "quantitative"},
        "text": {"field": "t"}
      }
    }
  ]
}
